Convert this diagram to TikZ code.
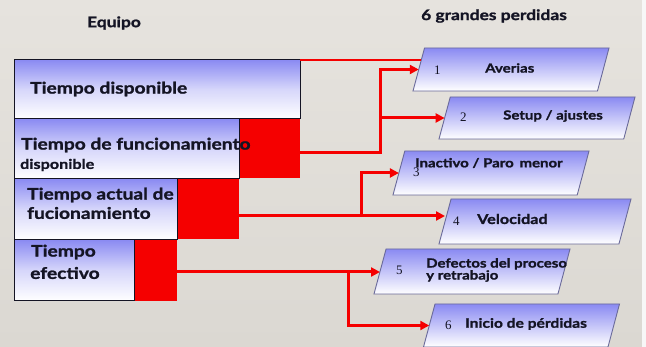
\documentclass[tikz,border=0pt]{standalone}
\usepackage{fontspec}
\setmainfont{Lato}[FakeStretch=1.2, BoldFeatures={FakeBold=1.3}]
\newfontfamily\numfont{Liberation Serif}
\usetikzlibrary{arrows.meta,calc}
\definecolor{bgtop}{HTML}{E6E3DE}
\definecolor{bgbot}{HTML}{DBD8D2}
\definecolor{boxblue}{HTML}{8A8AF2}
\definecolor{txt}{HTML}{141424}
\definecolor{pborder}{HTML}{6A6A9A}
\definecolor{lred}{HTML}{F50000}
\tikzset{
  tbox/.style={rectangle, anchor=north west, inner sep=0, draw=txt, line width=1.4pt,
    top color=boxblue, bottom color=white, middle color=boxblue!35!white},
  rbox/.style={rectangle, anchor=north west, inner sep=0, fill=lred, draw=none},
  parashape/.style={draw=pborder, line width=0.9pt, top color=boxblue, bottom color=white},
  btxt/.style={anchor=west, inner sep=0, text=txt, font=\bfseries\fontsize{16}{17}\selectfont},
  ptxt/.style={anchor=west, inner sep=0, text=txt, font=\bfseries\fontsize{12.5}{14}\selectfont},
  ntxt/.style={anchor=west, inner sep=0, text=txt, font=\numfont\fontsize{13}{14}\selectfont},
  conn/.style={draw=lred, line width=3pt, -{Triangle[length=9pt,width=9pt]}},
}
% #1 name, #2 cx, #3 cy, #4 width, #5 height
\newcommand\mypara[5]{%
  \pgfmathsetmacro\ps{0.268*#5}%
  \coordinate (#1) at (#2,#3);
  \coordinate (#1-w) at ({#2-#4/2+\ps/2},#3);
  \path[parashape] ({#2-#4/2},{#3+#5/2}) -- ({#2+#4/2-\ps},{#3+#5/2})
     -- ({#2+#4/2},{#3-#5/2}) -- ({#2-#4/2+\ps},{#3-#5/2}) -- cycle;
}
\begin{document}
\begin{tikzpicture}[x=1pt,y=-1pt]
\useasboundingbox (0,0) rectangle (646,347);
\shade[top color=bgtop, bottom color=bgbot] (0,0) rectangle (642,347);
\fill[white!94!gray] (642,0) rectangle (646,347);

% headers
\node[inner sep=0, text=txt, font=\bfseries\fontsize{14.5}{15}\selectfont] (h1) at (114,23) {Equipo};
\node[inner sep=0, text=txt, font=\bfseries\fontsize{14.5}{15}\selectfont] (h2) at (494,16) {6 grandes perdidas};

% red boxes
\node[rbox, minimum width=61pt, minimum height=60pt] (r2) at (239,118) {};
\node[rbox, minimum width=62pt, minimum height=61pt] (r3) at (177,178) {};
\node[rbox, minimum width=43pt, minimum height=62pt] (r4) at (134,239) {};

% blue boxes
\node[tbox, minimum width=286pt, minimum height=59pt] (b1) at (14,59) {};
\node[tbox, minimum width=225pt, minimum height=60pt] (b2) at (14,118) {};
\node[tbox, minimum width=163pt, minimum height=61pt] (b3) at (14,178) {};
\node[tbox, minimum width=120pt, minimum height=61pt] (b4) at (14,239) {};

\node[btxt] (t1) at (30,89) {Tiempo disponible};
\node[btxt] (t2) at (21,145) {Tiempo de funcionamiento};
\node[btxt, font=\bfseries\fontsize{13.5}{14}\selectfont] (t2b) at (20,165) {disponible};
\node[btxt] (t3a) at (27,195) {Tiempo actual de};
\node[btxt] (t3b) at (27,213) {fucionamiento};
\node[btxt] (t4a) at (31,252) {Tiempo};
\node[btxt] (t4b) at (30,273) {efectivo};

% parallelograms
\mypara{p1}{511}{69.5}{196}{43}
\mypara{p2}{537}{118}{196}{42}
\mypara{p3}{491}{173}{196}{44}
\mypara{p4}{535}{221.5}{192}{45}
\mypara{p5}{472}{271.5}{196}{45}
\mypara{p6}{521.5}{325.5}{196}{43}

\node[ntxt] (n1) at (434,70) {1};
\node[ptxt] (l1) at (485,68) {Averias};
\node[ntxt] (n2) at (460,117) {2};
\node[ptxt] (l2) at (503,116) {Setup / ajustes};
\node[ntxt] (n3) at (413,172) {3};
\node[ptxt] (l3) at (415,163) {Inactivo / Paro\, menor};
\node[ntxt] (n4) at (453,221) {4};
\node[ptxt, font=\bfseries\fontsize{13.5}{14}\selectfont] (l4) at (477,219) {Velocidad};
\node[ntxt] (n5) at (396,270) {5};
\node[ptxt, align=left, font=\bfseries\fontsize{12.5}{12}\selectfont] (l5) at (426,270) {Defectos del proceso\\y retrabajo};
\node[ntxt] (n6) at (445,325) {6};
\node[ptxt, font=\bfseries\fontsize{13}{14}\selectfont] (l6) at (465,324) {Inicio de pérdidas};

% connectors
\coordinate (j1) at (300,60);
\coordinate (e1) at ($(p1-w)+(2.6,-9.5)$);
\draw[draw=lred, line width=1.3pt] (j1) -- (j1 -| e1);

\coordinate (j2) at (380,153);
\draw[conn] (r2.east |- j2) -- (j2) |- (p1-w);
\draw[conn] (j2 |- p2-w) -- (p2-w);

\coordinate (j3) at (361,216);
\draw[conn] (r3.east |- j3) -- (j3 -| p4-w);
\draw[conn] (j3) |- (p3-w);

\coordinate (j4) at (348,272);
\draw[conn] (r4.east |- j4) -- (j4 -| p5-w);
\draw[conn] (j4) |- (p6-w);
\end{tikzpicture}
\end{document}
